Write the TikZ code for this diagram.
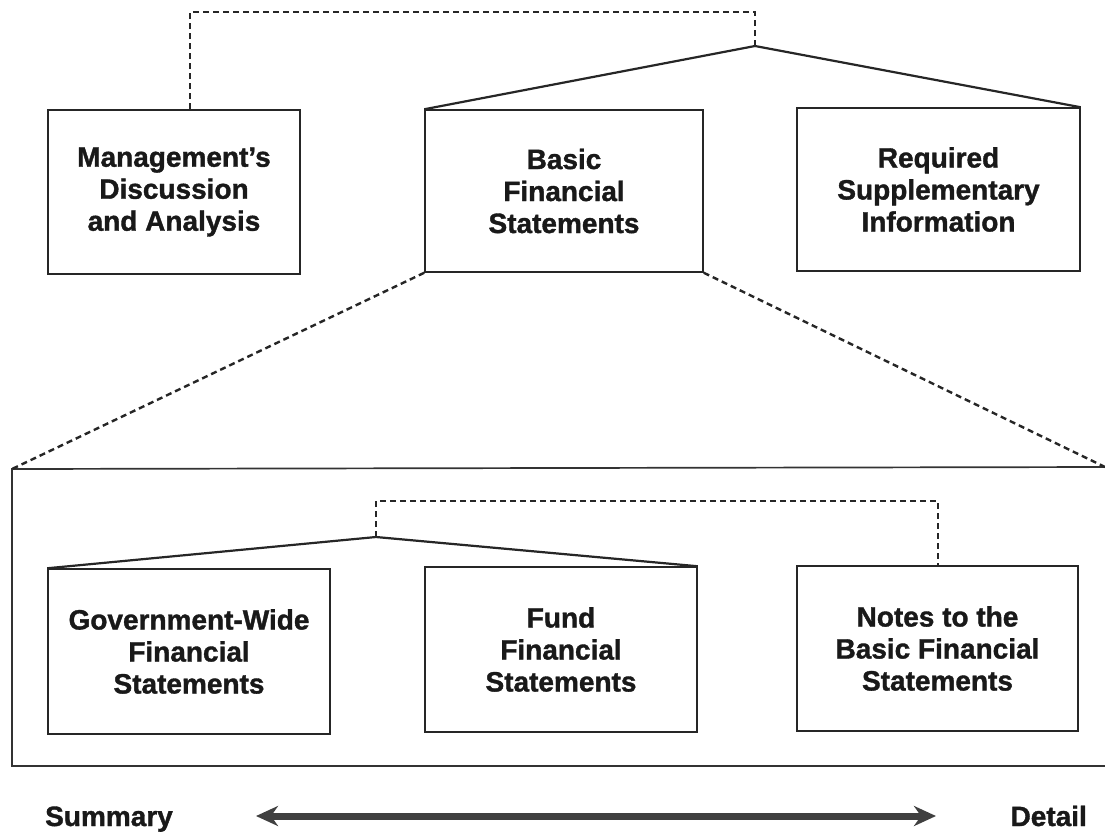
\documentclass[tikz,border=0pt]{standalone}
\usepackage{fontspec}
\setmainfont{Liberation Sans}[BoldFeatures={FakeBold=1.3}]
\usetikzlibrary{arrows.meta}
\tikzset{
  box/.style={draw=black!85, line width=1.5pt, minimum width=#1, inner sep=0pt, align=center,
     font=\fontsize{28}{32}\selectfont\bfseries, text=black!90},
  solidline/.style={draw=black!85, line width=2.2pt},
  dashline/.style={draw=black!85, line width=2.4pt, dash pattern=on 6pt off 4pt},
  frame/.style={draw=black!80, line width=1.7pt},
  lbl/.style={font=\fontsize{28}{32}\selectfont\bfseries, text=black!90, inner sep=0pt},
  bigarrow/.style={draw=black!75, line width=7pt, {Stealth[length=22pt,width=20pt,inset=7pt]}-{Stealth[length=22pt,width=20pt,inset=7pt]}}
}
\begin{document}
\begin{tikzpicture}[x=1pt,y=-1pt]
\useasboundingbox (0,0) rectangle (1105,831);
% top row
\node[box=252pt, minimum height=164pt] (mda) at (174,192) {Management's\\Discussion\\and Analysis};
\node[box=278pt, minimum height=162pt] (bfs) at (564,191) {Basic\\Financial\\Statements};
\node[box=283pt, minimum height=163pt] (rsi) at (938.5,189.5) {Required\\Supplementary\\Information};
\coordinate (peak) at (755,46);
\coordinate (topr) at (755,12);
\coordinate (topl) at (190,12);
\draw[solidline] (bfs.north west) -- (peak) -- (rsi.north east);
\draw[dashline] (peak) -- (topr) -- (topl) -- (topl |- mda.north);
% big frame
\coordinate (bigtl) at (12,469);
\coordinate (bigtr) at (1105,467);
\coordinate (bigbl) at (12,766);
\coordinate (bigbr) at (1105,766);
\draw[frame] (bigtr) -- (bigtl) -- (bigbl) -- (bigbr);
\draw[dashline] (bfs.south west) -- (bigtl);
\draw[dashline] (bfs.south east) -- (bigtr);
% bottom row
\node[box=282pt, minimum height=165pt] (gov) at (189,651.5) {Government-Wide\\Financial\\Statements};
\node[box=272pt, minimum height=165pt] (fund) at (561,649.5) {Fund\\Financial\\Statements};
\node[box=281pt, minimum height=165pt] (notes) at (937.5,648.5) {Notes to the\\Basic Financial\\Statements};
\coordinate (ipeak) at (376,537);
\coordinate (itopl) at (376,501);
\coordinate (itopr) at (938,501);
\draw[solidline] (gov.north west) -- (ipeak) -- (fund.north east);
\draw[dashline] (ipeak) -- (itopl) -- (itopr) -- (itopr |- notes.north);
% summary / detail
\node[lbl, anchor=base west] (sum) at (45,826) {Summary};
\node[lbl, anchor=base east] (det) at (1087,826) {Detail};
\coordinate (al) at (256,816);
\coordinate (ar) at (936,816);
\draw[bigarrow] (al) -- (ar);
\end{tikzpicture}
\end{document}
